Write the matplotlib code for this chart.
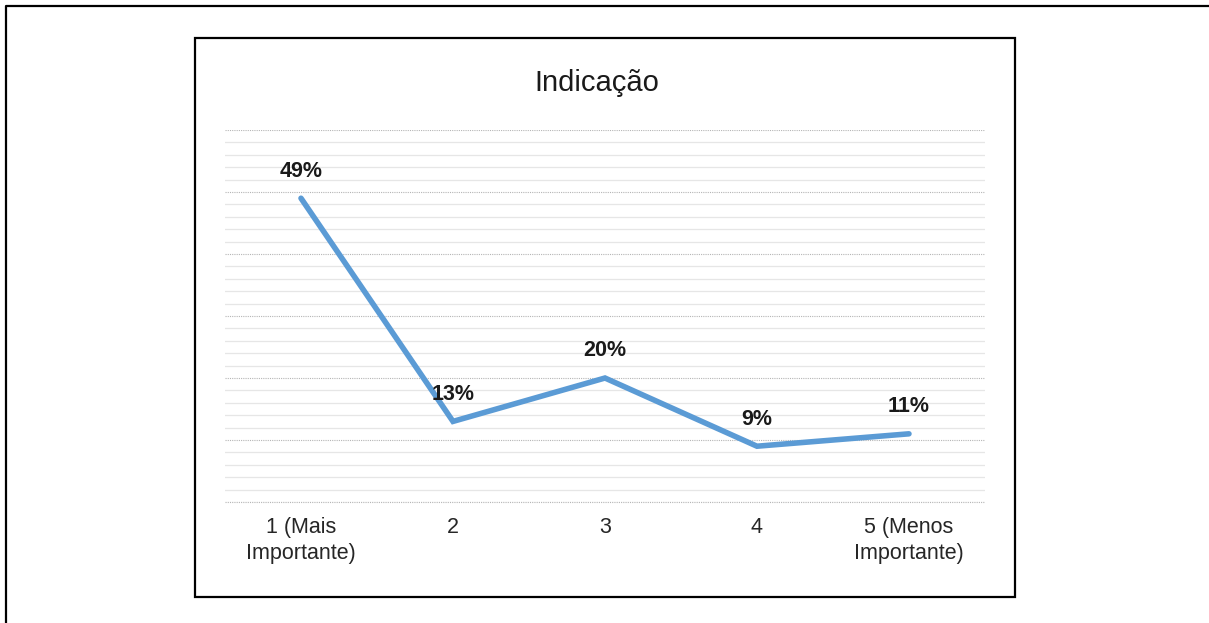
import matplotlib
matplotlib.use("Agg")
import matplotlib.pyplot as plt
from matplotlib.lines import Line2D
from matplotlib.patches import Rectangle
from matplotlib.ticker import MultipleLocator

plt.rcParams["font.family"] = ["Liberation Sans", "DejaVu Sans"]

# ranking positions and share of answers
categories = ["1 (Mais\nImportante)", "2", "3", "4", "5 (Menos\nImportante)"]
shares = [0.49, 0.13, 0.20, 0.09, 0.11]
value_labels = ["49%", "13%", "20%", "9%", "11%"]

fig = plt.figure(figsize=(12.09, 6.23), dpi=100)

# outer page frame (left and top edges only)
fig.add_artist(Line2D([0.005, 0.005, 1.0], [0.0, 0.9904, 0.9904],
                      transform=fig.transFigure, color="black", lw=1.6))
# chart border
fig.add_artist(Rectangle((0.1613, 0.0417), 0.6782, 0.8973, transform=fig.transFigure,
                         fill=False, edgecolor="black", lw=1.6))

ax = fig.add_axes([0.1861, 0.1942, 0.6286, 0.5971])
xs = list(range(len(categories)))
ax.plot(xs, shares, color="#5B9BD5", lw=4.0, solid_capstyle="round",
        solid_joinstyle="miter", zorder=3)

for x, y, lab in zip(xs, shares, value_labels):
    ax.annotate(lab, xy=(x, y), xytext=(0, 19.5), textcoords="offset points",
                ha="center", va="center", fontsize=15.5, fontweight="bold",
                color="#1a1a1a", zorder=4)

ax.set_xlim(-0.5, 4.5)
ax.set_ylim(0, 0.6)
ax.yaxis.set_major_locator(MultipleLocator(0.1))
ax.yaxis.set_minor_locator(MultipleLocator(0.02))
ax.grid(True, axis="y", which="major", color="#b5b5b5", lw=0.8, linestyle=(0, (1, 1)))
ax.grid(True, axis="y", which="minor", color="#e6e6e6", lw=0.9, linestyle="-")
# baseline at zero is also a dotted major line
ax.axhline(0, color="#b5b5b5", lw=0.8, linestyle=(0, (1, 1)), clip_on=False, zorder=1)
ax.set_axisbelow(True)

ax.set_xticks(xs)
ax.set_xticklabels(categories, fontsize=15.5, color="#262626", linespacing=1.3)
ax.tick_params(axis="x", length=0, pad=11)
ax.tick_params(axis="y", which="both", length=0, labelleft=False)
for s in ax.spines.values():
    s.set_visible(False)

fig.text(0.494, 0.867, "Indicação", ha="center", va="center", fontsize=21, color="#1a1a1a")

fig.savefig("out.png", dpi=100, facecolor="white")
